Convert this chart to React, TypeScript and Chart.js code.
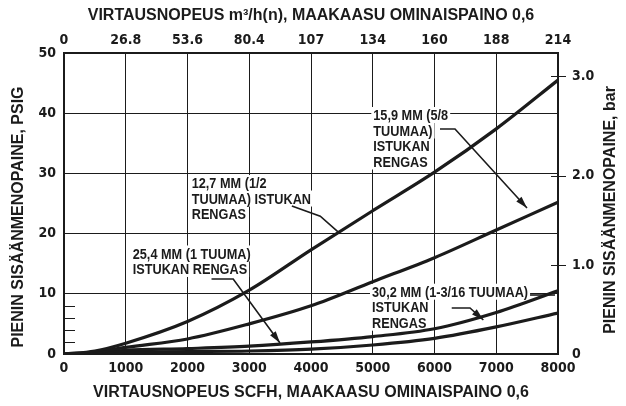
import React, { useEffect, useRef } from 'react';
import { Chart, registerables } from 'chart.js';

Chart.register(...registerables);

// ---- data ----
const scfh = [0, 500, 1000, 2000, 3000, 4000, 5000, 6000, 7000, 8000];
const psig127 = [0, 0.5, 1.8, 5.4, 10.6, 17.3, 23.8, 30.2, 37.4, 45.5];
const psig159 = [0, 0.3, 1.1, 2.5, 5.0, 8.0, 12.0, 16.0, 20.6, 25.2];
const psig254 = [0, 0.2, 0.6, 0.9, 1.3, 2.0, 2.9, 4.2, 6.9, 10.5];
const psig302 = [0, 0.1, 0.3, 0.4, 0.5, 0.8, 1.5, 2.6, 4.5, 6.8];

const bottomTickLabels = ['0', '1000', '2000', '3000', '4000', '5000', '6000', '7000', '8000'];
const topTickLabels = ['0', '26.8', '53.6', '80.4', '107', '134', '160', '188', '214'];
const leftTickLabels = ['0', '10', '20', '30', '40', '50'];
const rightTickLabels = ['0', '1.0', '2.0', '3.0'];
const rightTickPsig = [0, 14.8, 29.6, 46.2];
const leftMinorTicks = [2, 4, 6, 8];

const topTitle = 'VIRTAUSNOPEUS m³/h(n), MAAKAASU OMINAISPAINO 0,6';
const bottomTitle = 'VIRTAUSNOPEUS SCFH, MAAKAASU OMINAISPAINO 0,6';
const leftTitle = 'PIENIN SISÄÄNMENOPAINE, PSIG';
const rightTitle = 'PIENIN SISÄÄNMENOPAINE, bar';

type Anno = { x: number; y: number; lines: string[]; paths: { pts: [number, number][]; arrow: boolean }[] };
const annotations: Anno[] = [
  {
    x: 2068, y: 28.4, lines: ['12,7 MM (1/2', 'TUUMAA) ISTUKAN', 'RENGAS'],
    paths: [{ pts: [[3690, 24.6], [4150, 22.9], [4470, 20.0]], arrow: false }],
  },
  {
    x: 1113, y: 16.7, lines: ['25,4 MM (1 TUUMA)', 'ISTUKAN RENGAS'],
    paths: [{ pts: [[2389, 12.46], [2740, 12.46], [3498, 1.83]], arrow: true }],
  },
  {
    x: 5009, y: 39.7, lines: ['15,9 MM (5/8', 'TUUMAA)', 'ISTUKAN', 'RENGAS'],
    paths: [{ pts: [[6089, 37.38], [6332, 37.38], [7498, 24.25]], arrow: true }],
  },
  {
    x: 4988, y: 10.35, lines: ['30,2 MM (1-3/16 TUUMAA)', 'ISTUKAN', 'RENGAS'],
    paths: [
      { pts: [[7547, 9.8], [7951, 9.8]], arrow: false },
      { pts: [[6279, 7.64], [6575, 7.64], [6791, 5.65]], arrow: true },
    ],
  },
];

const INK = '#1b1b1b';
const NARROW = '"Liberation Sans Narrow", "Arial Narrow", "DejaVu Sans Condensed", sans-serif';
const WIDE = '"Liberation Sans", Arial, Helvetica, sans-serif';
const annoFont = `bold 15.5px ${WIDE}`;
const ANNO_SX = 0.82;
const LINE_GAP = 15.5;

const overlay = {
  id: 'overlay',
  beforeDatasetsDraw(chart: any) {
    const { ctx } = chart;
    const xs = chart.scales.x;
    const ys = chart.scales.y;
    ctx.save();
    ctx.font = annoFont;
    ctx.fillStyle = '#ffffff';
    for (const a of annotations) {
      const x0 = xs.getPixelForValue(a.x);
      const y0 = ys.getPixelForValue(a.y);
      a.lines.forEach((t, i) => {
        const w = ctx.measureText(t).width * ANNO_SX;
        ctx.fillRect(x0 - 2, y0 + i * LINE_GAP - 8, w + 4, 16);
      });
    }
    ctx.restore();
  },
  afterDatasetsDraw(chart: any) {
    const { ctx, chartArea } = chart;
    const xs = chart.scales.x;
    const ys = chart.scales.y;
    ctx.save();
    ctx.strokeStyle = INK;
    ctx.fillStyle = INK;
    for (const a of annotations) {
      const x0 = xs.getPixelForValue(a.x);
      const y0 = ys.getPixelForValue(a.y);
      ctx.save();
      ctx.font = annoFont;
      ctx.textAlign = 'left';
      ctx.textBaseline = 'middle';
      ctx.translate(x0, y0);
      ctx.scale(ANNO_SX, 1);
      a.lines.forEach((t, i) => ctx.fillText(t, 0, i * LINE_GAP + 1));
      ctx.restore();
      for (const p of a.paths) {
        const pts = p.pts.map(([sx, py]) => [xs.getPixelForValue(sx), ys.getPixelForValue(py)]);
        ctx.lineWidth = 1.6;
        ctx.beginPath();
        pts.forEach(([px, py], i) => (i ? ctx.lineTo(px, py) : ctx.moveTo(px, py)));
        ctx.stroke();
        if (p.arrow) {
          const [ax, ay] = pts[pts.length - 1];
          const [bx, by] = pts[pts.length - 2];
          const ang = Math.atan2(ay - by, ax - bx);
          const L = 12, W = 3.5;
          ctx.beginPath();
          ctx.moveTo(ax, ay);
          ctx.lineTo(ax - L * Math.cos(ang) + W * Math.sin(ang), ay - L * Math.sin(ang) - W * Math.cos(ang));
          ctx.lineTo(ax - L * Math.cos(ang) - W * Math.sin(ang), ay - L * Math.sin(ang) + W * Math.cos(ang));
          ctx.closePath();
          ctx.fill();
        }
      }
    }
    // minor ticks on left
    ctx.lineWidth = 1;
    for (const v of leftMinorTicks) {
      const y = Math.round(ys.getPixelForValue(v)) + 0.5;
      ctx.beginPath();
      ctx.moveTo(chartArea.left, y);
      ctx.lineTo(chartArea.left + 11, y);
      ctx.stroke();
    }
    // crossing ticks on right
    for (const v of rightTickPsig.slice(1)) {
      const y = Math.round(ys.getPixelForValue(v)) + 0.5;
      ctx.beginPath();
      ctx.moveTo(chartArea.right - 7, y);
      ctx.lineTo(chartArea.right + 8, y);
      ctx.stroke();
    }
    // rotated titles
    ctx.font = `bold 16px ${WIDE}`;
    ctx.textAlign = 'center';
    ctx.textBaseline = 'middle';
    ctx.translate(19, 217);
    ctx.rotate(-Math.PI / 2);
    ctx.fillText(leftTitle, 0, 0);
    ctx.setTransform(1, 0, 0, 1, 0, 0);
    ctx.translate(611, 210);
    ctx.rotate(-Math.PI / 2);
    ctx.fillText(rightTitle, 0, 0);
    ctx.restore();
  },
};

function fix(size: number, horizontal: boolean) {
  return (s: any) => {
    if (horizontal) s.height = size;
    else s.width = size;
  };
}

export default function App() {
  const ref = useRef<HTMLCanvasElement>(null);
  useEffect(() => {
    if (!ref.current) return;
    const mk = (vals: number[]) => scfh.map((x, i) => ({ x, y: vals[i] }));
    const ds = (label: string, vals: number[]) => ({
      label,
      data: mk(vals),
      borderColor: INK,
      borderWidth: 3.2,
      pointRadius: 0,
      fill: false,
      cubicInterpolationMode: 'monotone' as const,
    });
    const tickFont = { family: NARROW, size: 14, weight: 'bold' as const };
    const chart = new Chart(ref.current, {
      type: 'line',
      data: {
        datasets: [
          ds('12,7 MM', psig127),
          ds('15,9 MM', psig159),
          ds('25,4 MM', psig254),
          ds('30,2 MM', psig302),
        ],
      },
      options: {
        animation: false,
        responsive: true,
        maintainAspectRatio: false,
        layout: { padding: 0 },
        plugins: { legend: { display: false }, tooltip: { enabled: false } },
        scales: {
          x: {
            type: 'linear', position: 'bottom', min: 0, max: 8000,
            afterFit: fix(52, true),
            ticks: { stepSize: 1000, autoSkip: false, maxRotation: 0, padding: 6, color: INK, font: tickFont,
              callback: (_v: any, i: number) => bottomTickLabels[i] },
            grid: { color: INK, lineWidth: 1, drawTicks: false },
            border: { color: INK, width: 2 },
            title: { display: true, text: bottomTitle, color: INK, font: { family: WIDE, size: 16, weight: 'bold' }, padding: { top: 0, bottom: 4 } },
          },
          x2: {
            type: 'linear', position: 'top', min: 0, max: 8000,
            afterFit: fix(53, true),
            ticks: { stepSize: 1000, autoSkip: false, maxRotation: 0, padding: 4, color: INK, font: tickFont,
              callback: (_v: any, i: number) => topTickLabels[i] },
            grid: { drawOnChartArea: false, drawTicks: false },
            border: { color: INK, width: 2 },
            title: { display: true, text: topTitle, color: INK, font: { family: WIDE, size: 16, weight: 'bold' }, padding: { top: 6, bottom: 0 } },
          },
          y: {
            type: 'linear', position: 'left', min: 0, max: 50,
            afterFit: fix(64, false),
            ticks: { stepSize: 10, padding: 8, color: INK, font: tickFont,
              callback: (_v: any, i: number) => leftTickLabels[i] },
            grid: { color: INK, lineWidth: 1, drawTicks: false },
            border: { color: INK, width: 2 },
          },
          y2: {
            type: 'linear', position: 'right', min: 0, max: 50,
            afterFit: fix(68, false),
            afterBuildTicks: (s: any) => { s.ticks = rightTickPsig.map((v) => ({ value: v })); },
            ticks: { padding: 14, color: INK, font: tickFont,
              callback: (_v: any, i: number) => rightTickLabels[i] },
            grid: { drawOnChartArea: false, drawTicks: false },
            border: { color: INK, width: 2 },
          },
        },
      },
      plugins: [overlay],
    } as any);
    return () => chart.destroy();
  }, []);
  return (
    <div style={{ position: 'fixed', left: 0, top: 0, width: 626, height: 406, background: '#fff' }}>
      <canvas ref={ref} />
    </div>
  );
}
